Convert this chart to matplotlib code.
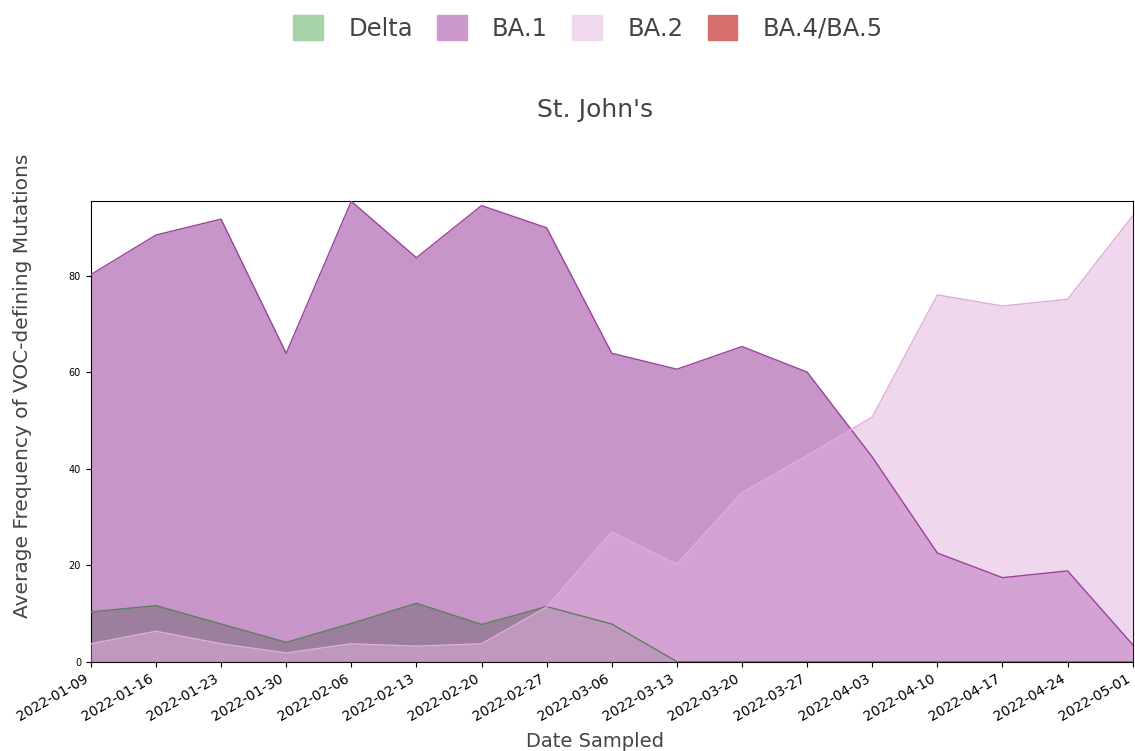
import matplotlib
matplotlib.use("Agg")
import matplotlib.pyplot as plt
import matplotlib.patches as mpatches
import pandas as pd

dates = ["2022-01-09", "2022-01-16", "2022-01-23", "2022-01-30", "2022-02-06",
         "2022-02-13", "2022-02-20", "2022-02-27", "2022-03-06", "2022-03-13",
         "2022-03-20", "2022-03-27", "2022-04-03", "2022-04-10", "2022-04-17",
         "2022-04-24", "2022-05-01"]

delta = [10.3, 11.6, 7.8, 4.0, 7.9, 12.1, 7.7, 11.4, 7.8, 0, 0, 0, 0, 0, 0, 0, 0]
ba1 = [80.2, 88.4, 91.7, 63.9, 95.4, 83.7, 94.5, 89.9, 63.9, 60.6,
       65.3, 60.0, 42.4, 22.5, 17.4, 18.8, 3.5]
ba2 = [3.7, 6.3, 3.7, 1.8, 3.7, 3.2, 3.7, 11.3, 26.9, 20.2,
       35.0, 42.7, 50.7, 76.0, 73.7, 75.1, 92.4]
ba45 = [0] * 17

variants = ["Delta", "BA.1", "BA.2", "BA.4/BA.5"]
colors = ["#4da951", "#932d93", "#e1b1df", "#b00000"]
line_colors = ["#5b7f5c", "#9b429e", "#dfaedd", "#c06060"]
legend_colors = ["#a6d4a8", "#cb99cb", "#f0d8ef", "#d76e6e"]

df = pd.DataFrame({"Delta": delta, "BA.1": ba1, "BA.2": ba2, "BA.4/BA.5": ba45})
x = list(range(len(dates)))

fig = plt.figure(figsize=(11.35, 7.51), dpi=100)
ax = fig.add_axes([0.080, 0.119, 0.918, 0.613])

for i, (name, c, lc) in enumerate(zip(variants, colors, line_colors)):
    ax.fill_between(x, 0, df[name], color=c, alpha=0.5, lw=0, zorder=1 + i)
    ax.plot(x, df[name], color=lc, lw=1.0, zorder=5 + i)

ax.set_xlim(0, len(dates) - 1)
ax.set_ylim(0, max(ba1))
ax.set_xticks(x)
ax.set_xticklabels(dates, rotation=30, ha="right", fontsize=10)
ax.set_yticks([0, 20, 40, 60, 80])
ax.tick_params(axis="y", labelsize=7)
ax.set_xlabel("Date Sampled", fontsize=14, color="#444444")
ax.xaxis.set_label_coords(0.484, -0.152)
ax.set_ylabel("Average Frequency of VOC-defining Mutations", fontsize=14.5,
              color="#444444")
ax.yaxis.set_label_coords(-0.056, 0.599)

fig.text(0.524, 0.853, "St. John's", ha="center", va="center",
         fontsize=18, color="#444444")

handles = [mpatches.Patch(color=c, label=n) for n, c in zip(variants, legend_colors)]
fig.legend(handles=handles, loc="center", bbox_to_anchor=(0.518, 0.963), ncol=4,
           frameon=False, fontsize=17.5, labelcolor="#444444",
           handlelength=1.23, handleheight=1.23, columnspacing=1.0, handletextpad=1.03)

fig.savefig("out.png", dpi=100)
